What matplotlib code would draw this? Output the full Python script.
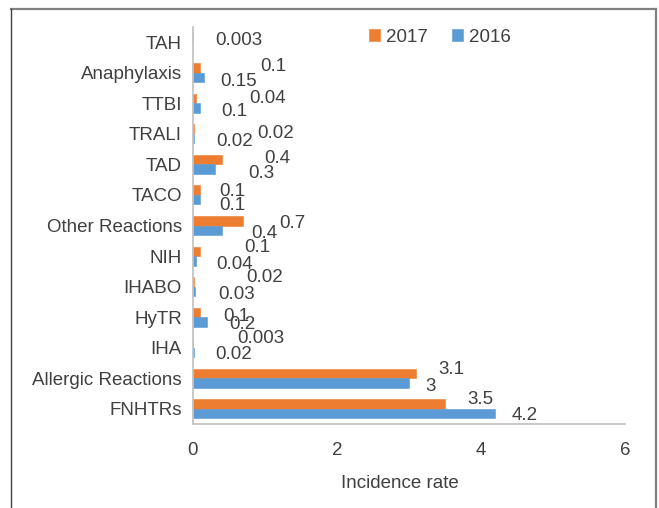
import numpy as np
import matplotlib.pyplot as plt
from matplotlib.lines import Line2D

plt.rcParams["font.family"] = ["Liberation Sans", "DejaVu Sans"]

categories = ["FNHTRs", "Allergic Reactions", "IHA", "HyTR", "IHABO", "NIH",
              "Other Reactions", "TACO", "TAD", "TRALI", "TTBI", "Anaphylaxis", "TAH"]
vals_2017 = [3.5, 3.1, 0.003, 0.1, 0.02, 0.1, 0.7, 0.1, 0.4, 0.02, 0.04, 0.1, 0.003]
vals_2016 = [4.2, 3, 0.02, 0.2, 0.03, 0.04, 0.4, 0.1, 0.3, 0.02, 0.1, 0.15, np.nan]

# label offsets (pixels) from bar end, as moved by hand in the original
off_2017 = [(35, 4), (35, 4), (68, 4), (36, -4), (70, 4), (57, 4), (49, -3),
            (32, -1), (56, 1), (81, -4), (72, 0), (73, 2), (46, -3)]
off_2016 = [(29, -2), (22, -4), (39, -2), (35, -3), (41, -3), (39, -4), (43, -3),
            (32, -6), (47, -4), (40, -3), (34, -3), (35, -4), (0, 0)]

orange = "#ED7D31"
blue = "#5B9BD5"
txt = "#404040"
fs = 13.5

fig = plt.figure(figsize=(6.59, 5.08), dpi=100)
ax = fig.add_axes([193 / 659, 84 / 508, 432 / 659, 397 / 508])

y = np.arange(len(categories))
h = 0.31
ax.barh(y + h / 2, vals_2017, height=h, color=orange, edgecolor=orange,
        linewidth=0.4, label="2017")
ax.barh(y - h / 2, vals_2016, height=h, color=blue, edgecolor=blue,
        linewidth=0.4, label="2016")

for i in range(len(categories)):
    v = vals_2017[i]
    ax.annotate(f"{v:g}", (v, y[i] + h / 2), xytext=off_2017[i],
                textcoords="offset pixels", ha="center", va="center",
                fontsize=fs, color=txt)
    v = vals_2016[i]
    if not np.isnan(v):
        ax.annotate(f"{v:g}", (v, y[i] - h / 2), xytext=off_2016[i],
                    textcoords="offset pixels", ha="center", va="center",
                    fontsize=fs, color=txt)

ax.set_xlim(0, 6)
ax.set_ylim(-0.5, len(categories) - 0.5)
ax.set_xticks([0, 2, 4, 6])
ax.set_yticks(y)
ax.set_yticklabels(categories)
ax.tick_params(length=0, labelsize=fs, labelcolor=txt)
ax.tick_params(axis="y", pad=8)
ax.tick_params(axis="x", pad=13)

for s in ["top", "right"]:
    ax.spines[s].set_visible(False)
for s in ["left", "bottom"]:
    ax.spines[s].set_color("#bfbfbf")
    ax.spines[s].set_linewidth(1.2)

ax.set_xlabel("Incidence rate", fontsize=fs, color=txt)
ax.xaxis.set_label_coords(0.479, -0.128)

ax.legend(loc="center", bbox_to_anchor=(440 / 659, 1 - 37 / 508),
          bbox_transform=fig.transFigure, ncol=2, frameon=False,
          fontsize=fs, labelcolor=txt, handlelength=0.6, handleheight=0.6,
          handletextpad=0.3, columnspacing=1.3)

# outer frame (open at the bottom)
fig.add_artist(Line2D([11 / 659, 656 / 659], [1 - 9 / 508, 1 - 9 / 508],
                      color="#808080", lw=1.6, transform=fig.transFigure))
fig.add_artist(Line2D([11 / 659, 11 / 659], [0, 1 - 9 / 508],
                      color="#404040", lw=1.0, transform=fig.transFigure))
fig.add_artist(Line2D([656 / 659, 656 / 659], [0, 1 - 9 / 508],
                      color="#808080", lw=1.6, transform=fig.transFigure))

fig.savefig("out.png", dpi=100)
